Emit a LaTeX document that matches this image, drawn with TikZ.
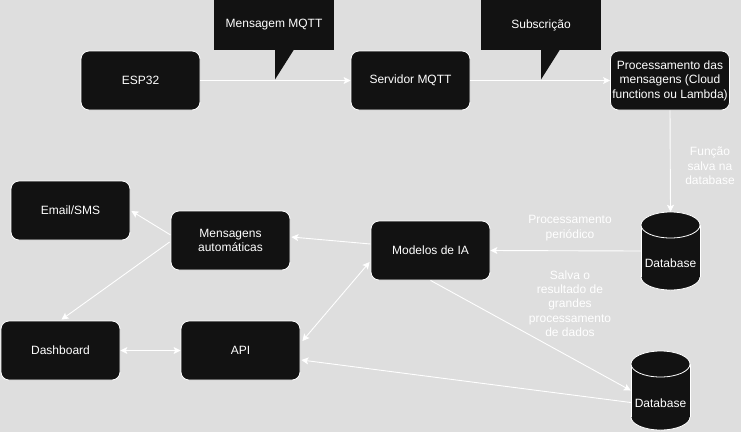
\documentclass[tikz,border=0pt]{standalone}
\usepackage{fontspec}
\setmainfont{Liberation Sans}
\usetikzlibrary{arrows.meta,calc}
\definecolor{bg}{HTML}{DEDEDE}
\definecolor{bk}{HTML}{121212}
\newcommand{\mycyl}[3]{%
 \filldraw[fill=bk,draw=white,line width=0.8pt] (#1,#3-13) ellipse [x radius=29.5pt,y radius=13pt];
 \fill[bk] (#1-29.5,#2+13) rectangle (#1+29.5,#3-13);
 \draw[white,line width=0.8pt] (#1-29.5,#2+13) -- (#1-29.5,#3-13) (#1+29.5,#2+13) -- (#1+29.5,#3-13);
 \filldraw[fill=bk,draw=white,line width=0.8pt] (#1,#2+13) ellipse [x radius=29.5pt,y radius=13pt];
}
\begin{document}
\begin{tikzpicture}[x=1pt,y=-1pt,
  box/.style={rectangle, rounded corners=8pt, fill=bk, draw=white, line width=0.8pt,
    minimum width=119pt, minimum height=59pt, text=white,
    font=\fontsize{12}{14.5}\selectfont, align=center, inner sep=0pt},
  callout/.style={rectangle, fill=bk, minimum width=120pt, minimum height=50pt,
    text=white, font=\fontsize{12}{14.5}\selectfont, inner sep=0pt},
  dbarea/.style={rectangle, minimum width=59pt, minimum height=78pt, inner sep=0pt},
  txt/.style={text=white, font=\fontsize{12}{14.5}\selectfont, align=center, inner sep=0pt},
  lbl/.style={text=white, font=\fontsize{12}{14.3}\selectfont, align=center, inner sep=0pt},
  conn/.style={draw=white, line width=0.9pt, -{Stealth[length=7pt,width=7pt,inset=1.5pt]}},
  conn2/.style={draw=white, line width=0.9pt, {Stealth[length=7pt,width=7pt,inset=1.5pt]}-{Stealth[length=7pt,width=7pt,inset=1.5pt]}}
]
\fill[bg] (0,0) rectangle (741,432);
\useasboundingbox (0,0) rectangle (741,432);

% callouts
\node[callout] (c1) at (274,25) {Mensagem MQTT};
\fill[bk] (275,49.5) -- (294,49.5) -- (275,79.5) -- cycle;
\node[callout] (c2) at (541,25) {Subscrição};
\fill[bk] (541,49.5) -- (560,49.5) -- (541,79.5) -- cycle;

% boxes
\node[box] (esp) at (140.5,80.5) {ESP32};
\node[box] (serv) at (410.5,80.5) {Servidor MQTT};
\node[box] (proc) at (670,80.5) {Processamento das\\mensagens (Cloud\\functions ou Lambda)};
\node[box] (email) at (70.5,210.5) {Email/SMS};
\node[box] (msg) at (230.5,240.5) {Mensagens\\automáticas};
\node[box] (mod) at (430.5,250.5) {Modelos de IA};
\node[box] (dash) at (60.5,350.5) {Dashboard};
\node[box] (api) at (240.5,350.5) {API};

% databases
\mycyl{670.5}{212}{290}
\node[dbarea] (db1) at (670.5,251) {};
\node[txt] (db1t) at (670.5,263) {Database};
\mycyl{660.5}{351}{430}
\node[dbarea] (db2) at (660.5,390.5) {};
\node[txt] (db2t) at (660.5,403) {Database};

% connectors
\draw[conn] (esp.east) -- (serv.west);
\draw[conn] (serv.east) -- (proc.west);
\draw[conn] (proc.south) -- (db1.north);
\draw[conn] (db1.west) -- (mod.east);
\draw[conn] (mod.south) -- (db2.west);
\draw[conn] ($(db2.west)+(0,12)$) -- ($(api.east)+(1,9.5)$);
\draw[conn] ($(mod.west)+(0,-6.5)$) -- ($(msg.east)+(1,-3.5)$);
\draw[conn2] ($(mod.west)+(-1,11.5)$) -- ($(api.east)+(2,-9.5)$);
\draw[conn] ($(msg.west)+(0,-5.5)$) -- ($(email.east)+(1,0.5)$);
\draw[conn] ($(msg.west)+(-1,1.5)$) -- ($(dash.north)+(1,-1)$);
\draw[conn2] (dash.east) -- (api.west);

% labels
\node[lbl] (l1) at (710,166) {Função\\salva na\\database};
\node[lbl] (l2) at (570,228) {Processamento\\periódico};
\node[lbl] (l3) at (570,303.5) {Salva o\\resultado de\\grandes\\processamento\\de dados};
\end{tikzpicture}
\end{document}
